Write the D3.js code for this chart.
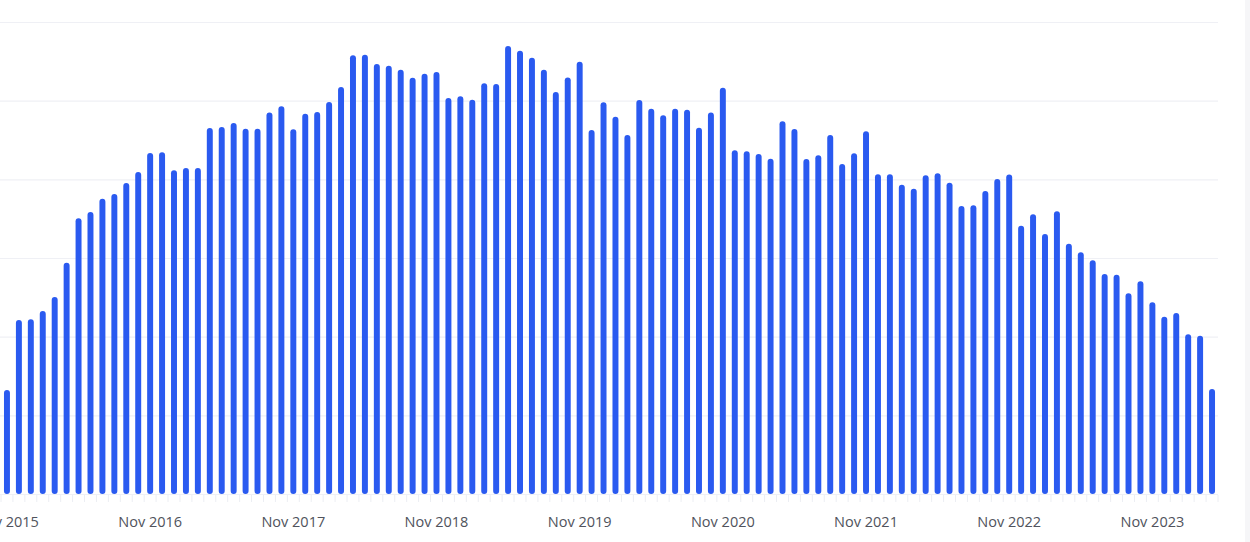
<!DOCTYPE html>
<html>
<head>
<meta charset="utf-8">
<script src="https://d3js.org/d3.v7.min.js"></script>
<style>
  body { margin: 0; background: #fff; overflow: hidden; }
  svg { display: block; font-family: "Open Sans", sans-serif; }
</style>
</head>
<body>
<script>
// DONNEES : une barre par mois, de Nov 2015 a Avr 2024

var firstMonth = new Date(2015, 10, 1);

var values = [
  66.1, 110.6, 111.0, 116.3, 125.2, 147.0, 175.2, 179.2, 187.7, 190.7,
  197.7, 204.7, 216.7, 217.2, 205.7, 207.2, 207.2, 232.6, 233.3, 235.8,
  232.2, 232.2, 242.4, 246.4, 231.8, 241.7, 242.8, 249.2, 258.7, 278.8,
  279.2, 273.3, 272.2, 269.7, 264.6, 267.1, 268.2, 251.7, 252.8, 250.6,
  261.0, 260.6, 284.7, 281.8, 277.3, 269.7, 255.5, 264.8, 274.8, 231.4,
  249.0, 239.8, 228.2, 250.4, 244.9, 240.7, 244.9, 244.3, 232.8, 242.4,
  258.2, 218.5, 217.8, 216.1, 213.1, 236.9, 232.0, 212.9, 215.3, 228.2,
  209.7, 216.6, 230.5, 203.2, 203.2, 196.6, 194.0, 202.6, 203.8, 197.9,
  183.1, 183.5, 192.6, 200.2, 203.1, 170.5, 177.8, 165.3, 179.7, 159.1,
  153.6, 148.5, 139.8, 139.4, 127.6, 135.2, 121.8, 112.7, 115.0, 101.5,
  100.6, 66.7
];

var tickLabels = ["Nov 2015", "Nov 2016", "Nov 2017", "Nov 2018", "Nov 2019",
                  "Nov 2020", "Nov 2021", "Nov 2022", "Nov 2023"];

var yTicks = [0, 50, 100, 150, 200, 250, 300];

var months = d3.timeMonths(firstMonth, d3.timeMonth.offset(firstMonth, values.length));
var fmt = d3.timeFormat("%b %Y");

var W = 1250, H = 542;
var plot = {left: 1, right: 1218, top: 22, bottom: 494};

var svg = d3.select("body").append("svg")
    .attr("width", W)
    .attr("height", H);

// ECHELLES

var x = d3.scaleBand()
    .domain(months.map(fmt))
    .range([plot.left, plot.right])
    .paddingInner(0.5)
    .paddingOuter(0.25);

var y = d3.scaleLinear()
    .domain([0, 300])
    .range([plot.bottom, plot.top]);

// bordure legere a droite (carte)
svg.append("rect")
    .attr("x", 1245).attr("y", 0)
    .attr("width", 5).attr("height", H)
    .attr("fill", "#f6f6f8");

// GRILLE

var grid = svg.append("g")
    .attr("transform", "translate(" + plot.right + ",0)")
    .call(d3.axisLeft(y).tickValues(yTicks).tickSize(plot.right - plot.left + 1).tickFormat(""));
grid.select(".domain").remove();
grid.selectAll("line").attr("stroke", "#eff0f5").attr("stroke-width", 1.2);

// petits traits sous l'axe, aux bords des bandes
var edges = d3.range(values.length + 1);
svg.append("g").selectAll("line")
    .data(edges)
    .join("line")
    .attr("x1", function(d) { return plot.left + d * x.step(); })
    .attr("x2", function(d) { return plot.left + d * x.step(); })
    .attr("y1", plot.bottom + 1)
    .attr("y2", plot.bottom + 8)
    .attr("stroke", "#eceef3")
    .attr("stroke-width", 1);

// BARRES

svg.append("g").selectAll("rect")
    .data(values)
    .join("rect")
    .attr("x", function(d, i) { return x(fmt(months[i])); })
    .attr("y", function(d) { return y(d); })
    .attr("width", x.bandwidth())
    .attr("height", function(d) { return y(0) - y(d); })
    .attr("rx", x.bandwidth() / 2)
    .attr("fill", "#2a5af0");

// AXE X

var xAxis = svg.append("g")
    .attr("transform", "translate(0," + (plot.bottom + 20) + ")")
    .call(d3.axisBottom(x).tickValues(tickLabels).tickSize(0));
xAxis.select(".domain").remove();
xAxis.selectAll("text")
    .attr("dy", "0.71em")
    .attr("fill", "#50535c")
    .style("font-size", "14.5px")
    .style("font-family", "'Open Sans', sans-serif");
</script>
</body>
</html>
